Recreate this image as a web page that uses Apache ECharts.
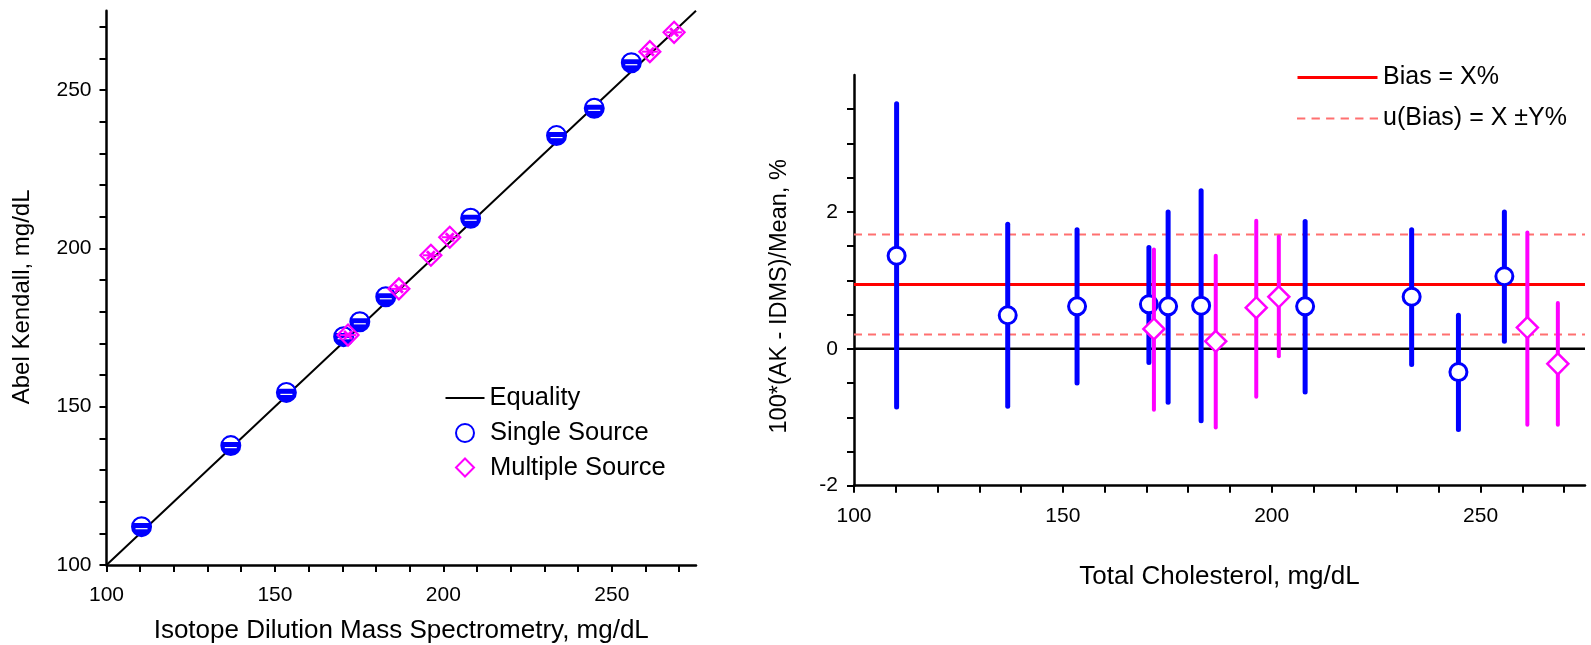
<!DOCTYPE html>
<html><head><meta charset="utf-8">
<script src="https://cdn.jsdelivr.net/npm/echarts@6/dist/echarts.min.js"></script>
<style>html,body{margin:0;padding:0;background:#fff}#c{width:1591px;height:645px}</style>
</head><body><div id="c"></div>
<script>
// ---------- Left panel: Abel Kendall vs IDMS ----------
const singleIDMS = [110.4, 136.9, 153.4, 170.4, 175.2, 182.9, 208.1, 233.6, 244.8, 255.8];
const singleAK   = [112.1, 137.7, 154.5, 172.1, 176.8, 184.7, 209.5, 235.6, 244.2, 258.6];
const multiIDMS  = [171.7, 186.8, 196.3, 201.9, 261.3, 268.5];
const multiAK    = [172.6, 187.2, 197.8, 203.5, 262.1, 268.2];
const equality   = [[100, 100], [275, 275]];
const leftTicks  = [100, 150, 200, 250];

// ---------- Right panel: relative difference vs total cholesterol ----------
const singleMean = [110.2, 136.8, 153.4, 170.6, 175.2, 183.1, 208.0, 233.5, 244.7, 255.7];
const singleDiff = [1.36, 0.49, 0.62, 0.65, 0.62, 0.63, 0.62, 0.76, -0.34, 1.06];
const singleLow  = [-0.85, -0.84, -0.50, -0.20, -0.78, -1.05, -0.63, -0.23, -1.18, 0.11];
const singleHigh = [3.58, 1.82, 1.74, 1.48, 2.00, 2.31, 1.86, 1.74, 0.49, 2.00];
const multiMean  = [171.8, 186.6, 196.3, 201.7, 261.2, 268.5];
const multiDiff  = [0.29, 0.11, 0.60, 0.76, 0.31, -0.22];
const multiLow   = [-0.89, -1.15, -0.70, -0.11, -1.11, -1.11];
const multiHigh  = [1.45, 1.36, 1.87, 1.64, 1.70, 0.67];
const bias = 0.94, biasLow = 0.21, biasHigh = 1.67;
const rightXTicks = [100, 150, 200, 250];
const rightYTicks = [-2, 0, 2];

const FONT = "'Liberation Sans', Arial, Helvetica, sans-serif";
const BLUE = '#0000ff', MAG = '#ff00ff', RED = '#ff0000', PINK = '#ff7070';

function renderLeftSingle(params, api) {
  const p = api.coord([api.value(0), api.value(1)]);
  const x = p[0], y = p[1];
  const cap = [];
  for (let a = 205; a <= 335; a += 10) {
    const r = a * Math.PI / 180;
    cap.push([x + 8.5 * Math.cos(r), y + 8.5 * Math.sin(r)]);
  }
  return {type: 'group', children: [
    {type: 'circle', shape: {cx: x, cy: y, r: 9.5}, style: {fill: BLUE}},
    {type: 'polygon', shape: {points: cap}, style: {fill: '#fff'}},
    {type: 'line', shape: {x1: x - 6, y1: y + 2, x2: x + 6, y2: y + 2}, style: {stroke: '#fff', lineWidth: 1.2}},
    {type: 'circle', shape: {cx: x, cy: y, r: 9.5}, style: {fill: 'none', stroke: BLUE, lineWidth: 2}}
  ]};
}
function renderLeftMulti(params, api) {
  const p = api.coord([api.value(0), api.value(1)]);
  const x = p[0], y = p[1], h = 10.5;
  return {type: 'group', children: [
    {type: 'polygon', shape: {points: [[x, y - h], [x + h, y], [x, y + h], [x - h, y]]}, style: {fill: 'none', stroke: MAG, lineWidth: 2.2}},
    {type: 'line', shape: {x1: x - 4, y1: y - 4, x2: x + 4, y2: y + 4}, style: {stroke: MAG, lineWidth: 2.8}},
    {type: 'line', shape: {x1: x - 4, y1: y + 4, x2: x + 4, y2: y - 4}, style: {stroke: MAG, lineWidth: 2.8}},
    {type: 'line', shape: {x1: x - 8, y1: y, x2: x + 8, y2: y}, style: {stroke: MAG, lineWidth: 2}}
  ]};
}
function renderErr(kind) {
  return function (params, api) {
    const xv = api.value(0);
    const p = api.coord([xv, api.value(1)]);
    const lo = api.coord([xv, api.value(2)]);
    const hi = api.coord([xv, api.value(3)]);
    const color = kind === 's' ? BLUE : MAG;
    const ch = [{type: 'line', shape: {x1: lo[0], y1: lo[1], x2: hi[0], y2: hi[1]},
                 style: {stroke: color, lineWidth: kind === 's' ? 5 : 4, lineCap: 'round'}}];
    if (kind === 's') {
      ch.push({type: 'circle', shape: {cx: p[0], cy: p[1], r: 8.5}, style: {fill: '#fff', stroke: color, lineWidth: 3}});
    } else {
      const h = 10.5;
      ch.push({type: 'polygon', shape: {points: [[p[0], p[1] - h], [p[0] + h, p[1]], [p[0], p[1] + h], [p[0] - h, p[1]]]},
               style: {fill: '#fff', stroke: color, lineWidth: 2.5}});
    }
    return {type: 'group', children: ch};
  };
}

const axisLineStyle = {show: true, onZero: false, lineStyle: {color: '#000', width: 2.5}};
const tickStyle = {show: true, inside: false, length: 7, lineStyle: {color: '#000', width: 2}};
const minorStyle = {show: true, length: 7, lineStyle: {color: '#000', width: 2}};
const lblStyle = {color: '#000', fontSize: 21, fontFamily: FONT};
const nameStyle = {color: '#000', fontSize: 26, fontFamily: FONT};

const dashPath = 'path://M0 0h8v2h-8z M14 0h8v2h-8z M28 0h8v2h-8z M42 0h8v2h-8z M56 0h8v2h-8z M70 0h8v2h-8z';

const option = {
  backgroundColor: '#fff',
  animation: false,
  textStyle: {fontFamily: FONT},
  grid: [
    {left: 106.5, top: 10.8, width: 589.5, height: 554.2, containLabel: false, outerBoundsMode: 'none'},
    {left: 854, top: 75, width: 731, height: 410.7, containLabel: false, outerBoundsMode: 'none'}
  ],
  xAxis: [
    {gridIndex: 0, type: 'value', min: 100, max: 275, interval: 50,
     axisLine: axisLineStyle, axisTick: Object.assign({customValues: leftTicks}, tickStyle),
     minorTick: Object.assign({splitNumber: 5}, minorStyle), splitLine: {show: false},
     axisLabel: Object.assign({customValues: leftTicks, margin: 20}, lblStyle),
     name: 'Isotope Dilution Mass Spectrometry, mg/dL', nameLocation: 'middle', nameGap: 53, nameTextStyle: nameStyle},
    {gridIndex: 1, type: 'value', min: 100, max: 275, interval: 50,
     axisLine: axisLineStyle, axisTick: Object.assign({customValues: rightXTicks}, tickStyle),
     minorTick: Object.assign({splitNumber: 5}, minorStyle), splitLine: {show: false},
     axisLabel: Object.assign({customValues: rightXTicks, margin: 20}, lblStyle),
     name: 'Total Cholesterol, mg/dL', nameLocation: 'middle', nameGap: 78, nameTextStyle: nameStyle}
  ],
  yAxis: [
    {gridIndex: 0, type: 'value', min: 100, max: 275, interval: 50,
     axisLine: axisLineStyle, axisTick: Object.assign({customValues: leftTicks}, tickStyle),
     minorTick: Object.assign({splitNumber: 5}, minorStyle), splitLine: {show: false},
     axisLabel: Object.assign({customValues: leftTicks, margin: 15}, lblStyle),
     name: 'Abel Kendall, mg/dL', nameLocation: 'middle', nameGap: 72, nameRotate: 90,
     nameTextStyle: Object.assign({}, nameStyle, {fontSize: 24, padding: [0, 18, 0, 0]})},
    {gridIndex: 1, type: 'value', min: -2, max: 4, interval: 2,
     axisLine: axisLineStyle, axisTick: Object.assign({customValues: rightYTicks}, tickStyle),
     minorTick: Object.assign({splitNumber: 4}, minorStyle), splitLine: {show: false},
     axisLabel: Object.assign({customValues: rightYTicks, margin: 16}, lblStyle),
     name: '100*(AK - IDMS)/Mean, %', nameLocation: 'middle', nameGap: 62, nameRotate: 90,
     nameTextStyle: Object.assign({}, nameStyle, {fontSize: 23.5, padding: [0, 32, 0, 0]})}
  ],
  legend: [
    {orient: 'vertical', left: 445.5, top: 385, itemWidth: 39, itemHeight: 2, padding: 0,
     textStyle: {color: '#000', fontSize: 25.5, fontFamily: FONT},
     data: [{name: 'Equality', icon: 'path://M0 0h40v2h-40z', itemStyle: {color: '#000'}}]},
    {orient: 'vertical', left: 455, top: 420, itemWidth: 18, itemHeight: 18, itemGap: 8.5, padding: 0,
     textStyle: {color: '#000', fontSize: 25.5, fontFamily: FONT, padding: [0, 0, 0, 11]},
     data: [
       {name: 'Single Source', icon: 'circle', itemStyle: {color: '#fff', borderColor: BLUE, borderWidth: 2}},
       {name: 'Multiple Source', icon: 'diamond', itemStyle: {color: '#fff', borderColor: MAG, borderWidth: 2}}
     ]},
    {orient: 'vertical', left: 1297, top: 65, itemWidth: 81, itemHeight: 3, itemGap: 16, padding: 0,
     textStyle: {color: '#000', fontSize: 25, fontFamily: FONT},
     data: [
       {name: 'Bias = X%', icon: 'path://M0 0h80v3h-80z', itemStyle: {color: RED}},
       {name: 'u(Bias) = X ±Y%', icon: dashPath, itemStyle: {color: PINK}}
     ]}
  ],
  series: [
    {name: 'Equality', type: 'line', xAxisIndex: 0, yAxisIndex: 0, data: equality, symbol: 'none',
     lineStyle: {color: '#000', width: 2}, itemStyle: {color: '#000'}, z: 1},
    {name: 'Single Source', type: 'custom', xAxisIndex: 0, yAxisIndex: 0, renderItem: renderLeftSingle,
     data: singleIDMS.map((v, i) => [v, singleAK[i]]), encode: {x: 0, y: 1}, itemStyle: {color: BLUE}, z: 3},
    {name: 'Multiple Source', type: 'custom', xAxisIndex: 0, yAxisIndex: 0, renderItem: renderLeftMulti,
     data: multiIDMS.map((v, i) => [v, multiAK[i]]), encode: {x: 0, y: 1}, itemStyle: {color: MAG}, z: 4},

    {name: 'zero', type: 'line', xAxisIndex: 1, yAxisIndex: 1, data: [[100, 0], [275, 0]], symbol: 'none',
     lineStyle: {color: '#000', width: 2.5}, z: 1},
    {name: 'Bias = X%', type: 'line', xAxisIndex: 1, yAxisIndex: 1, data: [[100, bias], [275, bias]], symbol: 'none',
     lineStyle: {color: RED, width: 3}, itemStyle: {color: RED}, z: 1},
    {name: 'u(Bias) = X ±Y%', type: 'line', xAxisIndex: 1, yAxisIndex: 1, data: [[100, biasHigh], [275, biasHigh]], symbol: 'none',
     lineStyle: {color: PINK, width: 2, type: [8, 6]}, itemStyle: {color: PINK}, z: 1},
    {name: 'u(Bias) = X ±Y%', type: 'line', xAxisIndex: 1, yAxisIndex: 1, data: [[100, biasLow], [275, biasLow]], symbol: 'none',
     lineStyle: {color: PINK, width: 2, type: [8, 6]}, itemStyle: {color: PINK}, z: 1},
    {name: 'singleErr', type: 'custom', xAxisIndex: 1, yAxisIndex: 1, renderItem: renderErr('s'),
     data: singleMean.map((v, i) => [v, singleDiff[i], singleLow[i], singleHigh[i]]), encode: {x: 0, y: 1}, z: 3},
    {name: 'multiErr', type: 'custom', xAxisIndex: 1, yAxisIndex: 1, renderItem: renderErr('m'),
     data: multiMean.map((v, i) => [v, multiDiff[i], multiLow[i], multiHigh[i]]), encode: {x: 0, y: 1}, z: 4}
  ]
};
const chart = echarts.init(document.getElementById('c'), null, {renderer: 'canvas'});
chart.setOption(option);
</script></body></html>
